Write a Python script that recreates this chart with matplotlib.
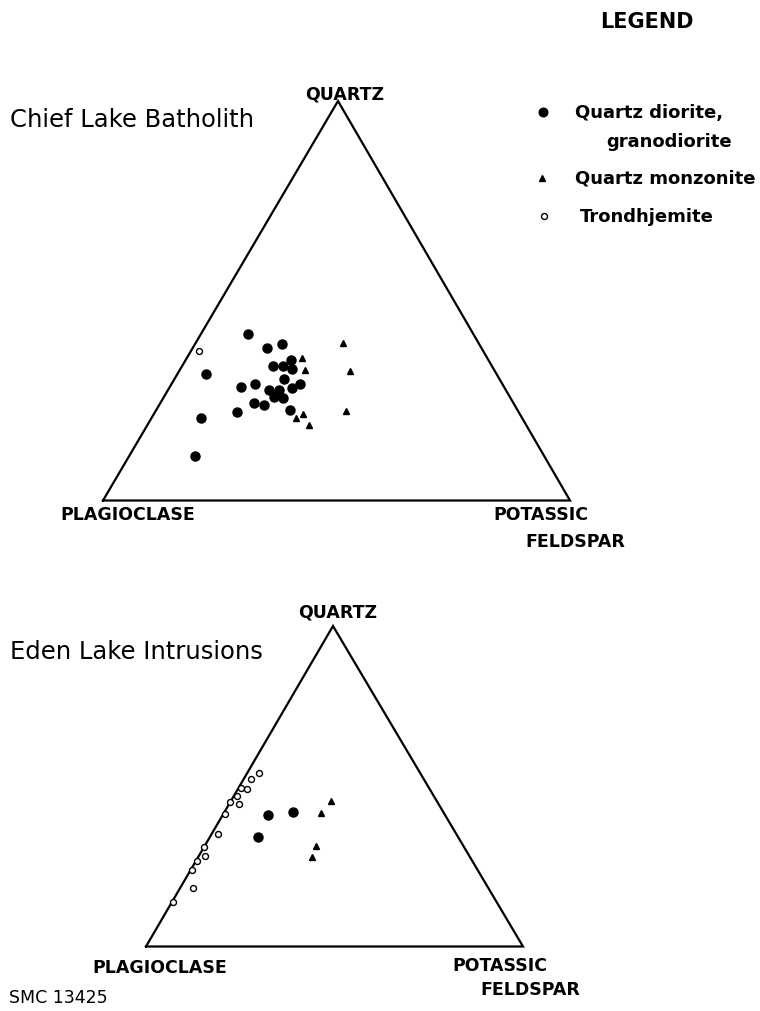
import matplotlib
matplotlib.use("Agg")
import matplotlib.pyplot as plt
import numpy as np

# ---------------- data (percent: Q = quartz, K = potassic feldspar, rest = plagioclase)
# Chief Lake Batholith
chief_qd_Q = [41.7, 38.2, 39.2, 35.2, 33.7, 33.7, 32.9, 31.7, 30.3, 28.5, 29.1, 27.6,
              27.6, 28.2, 29.1, 25.8, 25.6, 24.3, 23.9, 22.1, 22.6, 20.7, 11.1, 26.6]
chief_qd_K = [10.1, 16.0, 18.5, 22.5, 19.4, 21.6, 24.0, 6.1, 23.6, 15.2, 17.8, 21.7,
              23.9, 26.2, 27.5, 23.7, 25.6, 20.2, 22.5, 17.5, 28.7, 10.5, 14.2, 24.0]
chief_qm_Q = [35.6, 32.7, 39.3, 32.3, 22.5, 21.7, 20.7, 18.9]
chief_qm_K = [24.6, 26.7, 31.7, 36.6, 40.7, 31.9, 31.0, 34.7]
chief_tr_Q = [37.3]
chief_tr_K = [1.8]

# Eden Lake Intrusions
eden_qd_Q = [41.0, 41.9, 34.1]
eden_qd_K = [12.0, 18.1, 12.8]
eden_qm_Q = [45.5, 41.7, 31.3, 27.8]
eden_qm_K = [26.6, 25.8, 29.5, 30.2]
eden_tr_Q = [54.0, 52.2, 49.5, 49.0, 47.1, 45.0, 44.5, 41.2, 35.2, 31.0, 28.2, 26.8, 24.0, 18.3, 13.8]
eden_tr_K = [3.2, 1.9, 0.6, 2.4, 0.7, 0.0, 2.7, 0.4, 1.6, 0.0, 1.6, 0.2, 0.2, 3.4, 0.4]

apex_labels = ["QUARTZ", "PLAGIOCLASE", "POTASSIC", "FELDSPAR"]
titles = ["Chief Lake Batholith", "Eden Lake Intrusions"]
legend_labels = ["Quartz diorite,", "granodiorite", "Quartz monzonite", "Trondhjemite"]

# ---------------- layout
W, H = 760, 1012
fig = plt.figure(figsize=(W / 100, H / 100), dpi=100)
fig.patch.set_facecolor("white")


def fx(x):
    return x / W


def fy(y):
    return 1 - y / H


def make_ax(left, right, base, top, apex_x):
    ax = fig.add_axes([fx(left), fy(base), (right - left) / W, (base - top) / H])
    ax.set_xlim(0, 1)
    ax.set_ylim(0, 1)
    ax.set_axis_off()
    a = (apex_x - left) / (right - left)
    return ax, a


def tern(Q, K, a):
    Q = np.asarray(Q, float) / 100
    K = np.asarray(K, float) / 100
    return K + Q * a, Q


def draw_tri(ax, a):
    x, y = tern([0, 0, 100, 0], [0, 100, 0, 0], a)
    ax.plot(x, y, color="black", lw=1.6, clip_on=False, solid_joinstyle="miter")


def draw_points(ax, a, qdQ, qdK, qmQ, qmK, trQ, trK):
    x, y = tern(qdQ, qdK, a)
    ax.plot(x, y, "o", ms=6.5, color="black", mec="black", clip_on=False)
    x, y = tern(qmQ, qmK, a)
    ax.plot(x, y, "^", ms=4.3, color="black", mec="black", clip_on=False)
    x, y = tern(trQ, trK, a)
    ax.plot(x, y, "o", ms=4.3, mfc="white", mec="black", mew=1.0, clip_on=False)


# top diagram
ax1, a1 = make_ax(103, 570, 501.5, 102, 338)
draw_tri(ax1, a1)
draw_points(ax1, a1, chief_qd_Q, chief_qd_K, chief_qm_Q, chief_qm_K, chief_tr_Q, chief_tr_K)

# bottom diagram
ax2, a2 = make_ax(146, 523, 947.5, 627, 333)
draw_tri(ax2, a2)
draw_points(ax2, a2, eden_qd_Q, eden_qd_K, eden_qm_Q, eden_qm_K, eden_tr_Q, eden_tr_K)

lab = dict(fontfamily="DejaVu Sans", fontweight="bold", fontsize=12.5, color="black")

# labels top
fig.text(fx(345), fy(94), apex_labels[0], ha="center", va="center", **lab)
fig.text(fx(60), fy(515), apex_labels[1], ha="left", va="center", **lab)
fig.text(fx(493), fy(515), apex_labels[2], ha="left", va="center", **lab)
fig.text(fx(525), fy(542), apex_labels[3], ha="left", va="center", **lab)
# labels bottom
fig.text(fx(338), fy(613), apex_labels[0], ha="center", va="center", **lab)
fig.text(fx(92), fy(968), apex_labels[1], ha="left", va="center", **lab)
fig.text(fx(452), fy(966), apex_labels[2], ha="left", va="center", **lab)
fig.text(fx(480), fy(990), apex_labels[3], ha="left", va="center", **lab)

# titles
fig.text(fx(10), fy(120), titles[0], ha="left", va="center", fontsize=17.5,
         fontfamily="DejaVu Sans", color="black")
fig.text(fx(10), fy(652), titles[1], ha="left", va="center", fontsize=17.5,
         fontfamily="DejaVu Sans", color="black")

# legend
fig.text(fx(647), fy(22), "LEGEND", ha="center", va="center", fontsize=15,
         fontfamily="DejaVu Sans", fontweight="bold", color="black")
leg = dict(fontfamily="DejaVu Sans", fontweight="bold", fontsize=13, color="black")
fig.lines.append(plt.Line2D([fx(543)], [fy(113)], marker="o", ms=6.2, color="black",
                            transform=fig.transFigure, figure=fig))
fig.lines.append(plt.Line2D([fx(542)], [fy(179)], marker="^", ms=4.3, color="black",
                            transform=fig.transFigure, figure=fig))
fig.lines.append(plt.Line2D([fx(544)], [fy(217)], marker="o", ms=4.3, mfc="white", mec="black",
                            mew=1.0, transform=fig.transFigure, figure=fig))
fig.text(fx(575), fy(113), legend_labels[0], ha="left", va="center", **leg)
fig.text(fx(606), fy(142), legend_labels[1], ha="left", va="center", **leg)
fig.text(fx(575), fy(179), legend_labels[2], ha="left", va="center", **leg)
fig.text(fx(580), fy(217), legend_labels[3], ha="left", va="center", **leg)

# figure code
fig.text(fx(9), fy(998), "SMC 13425", ha="left", va="center", fontsize=12.5,
         fontfamily="DejaVu Sans", color="black")

fig.savefig("out.png", dpi=100, facecolor="white")
